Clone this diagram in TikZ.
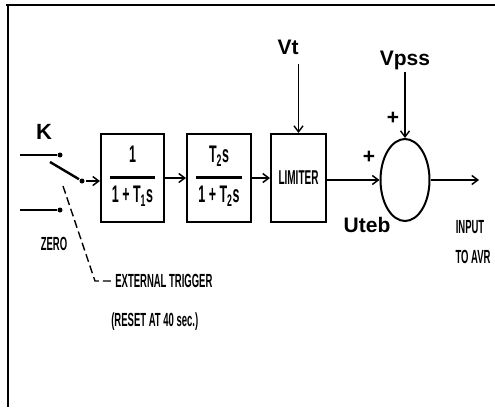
\documentclass[tikz,border=0pt]{standalone}
\usepackage{fontspec}
\setsansfont{Liberation Sans}
\newfontfamily\plotfont[FakeStretch=0.5]{Liberation Sans}
\newfontfamily\blockfont[FakeStretch=0.52]{Liberation Sans}
\usetikzlibrary{arrows.meta,shapes.geometric}

% fraction inside a block
\newcommand{\blockfrac}[2]{%
  {\setlength{\arrayrulewidth}{3pt}%
  \begin{tabular}{@{\hspace{2pt}}c@{\hspace{2pt}}}#1\\[6pt]\hline\rule{0pt}{24pt}#2\end{tabular}}}

\tikzset{
  block/.style={draw,line width=2pt,minimum height=88pt,inner sep=0pt,
    font=\blockfont\bfseries\fontsize{24}{24}\selectfont},
  flow/.style={line width=2.4pt,-{Straight Barb[length=6pt,width=9pt,line width=1.5pt]}},
  feed/.style={line width=1.3pt,-{Straight Barb[length=6pt,width=9pt,line width=1.4pt]}},
  sig/.style={font=\sffamily\bfseries\fontsize{21}{21}\selectfont},
  tag/.style={font=\plotfont\bfseries\fontsize{19}{19}\selectfont},
  contact/.style={circle,fill,inner sep=0pt,minimum size=5pt},
}

\begin{document}
\begin{tikzpicture}[x=1pt,y=-1pt,line width=2pt]
  \useasboundingbox (0,0) rectangle (495,407);
  % frame
  \draw (6,5) -- (495,5);
  \draw (8,5) -- (8,407);

  % switch
  \node[contact] (kin) at (60,155) {};
  \node[contact] (zin) at (60,210) {};
  \node[contact] (pole) at (82,181) {};
  \coordinate (kfeed) at (20,155);
  \coordinate (zfeed) at (20,210);
  \coordinate (blade) at (50,162);
  \draw[line width=2.4pt] (kfeed) -- (kin);
  \draw[line width=2.4pt] (zfeed) -- (zin);
  \draw[line width=2.4pt] (blade) -- (pole);
  \node[sig,font=\sffamily\bfseries\fontsize{22}{22}\selectfont] (k) at (44,132) {K};
  \node[tag] (zero) at (54,244) {ZERO};

  % trigger
  \coordinate (trigtop) at (63,186);
  \coordinate (trigbend) at (95,281);
  \node[tag,anchor=west] (trig) at (111,281) {EXTERNAL TRIGGER};
  \node[tag,anchor=west] (reset) at (107,322) {(RESET AT 40 sec.)};
  \draw[line width=1.4pt,dash pattern=on 8pt off 4pt] (trigtop) -- (trigbend) -- (trig.west);

  % blocks
  \node[block,minimum width=63pt] (f1) at (132.5,178) {\blockfrac{1}{1 + T\textsubscript{1}s}};
  \node[block,minimum width=64pt] (f2) at (219,178) {\blockfrac{T\textsubscript{2}s}{1 + T\textsubscript{2}s}};
  \node[block,minimum width=55pt,font=\plotfont\bfseries\fontsize{20}{20}\selectfont] (lim) at (298.5,178) {LIMITER};
  \node[draw,ellipse,line width=2pt,minimum width=49pt,minimum height=82pt] (sum) at (405,180) {};
  \coordinate (out) at (479,180);

  \draw[flow] (pole) -- (pole -| f1.west);
  \draw[flow] (f1) -- (f2);
  \draw[flow] (f2) -- (lim);
  \draw[flow] (lim.east |- sum) -- (sum.west);
  \draw[flow] (sum.east) -- (out);

  % signals
  \node[sig] (vt) at (288,47) {Vt};
  \node[sig] (vpss) at (405,60) {Vpss};
  \coordinate (vtap) at (lim.north |- 0,64);
  \coordinate (vpap) at (sum.north |- 0,72);
  \draw[feed] (vtap) -- (lim.north);
  \draw[feed] (vpap) -- (sum.north);
  \node[sig] (plus1) at (393,118) {+};
  \node[sig] (plus2) at (369,157) {+};
  \node[sig] (uteb) at (367,225) {Uteb};
  \node[tag] (inp) at (470,227) {INPUT};
  \node[tag] (avr) at (473,257) {TO AVR};
\end{tikzpicture}
\end{document}
